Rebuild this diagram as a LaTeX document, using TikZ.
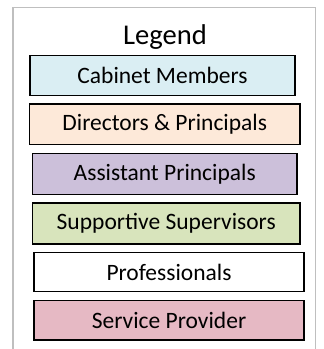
\documentclass[tikz,border=0pt]{standalone}
\usepackage{fontspec}
\setmainfont{Carlito}
\usetikzlibrary{calc}
\definecolor{cabinet}{HTML}{DAEEF3}
\definecolor{director}{HTML}{FDE9D9}
\definecolor{assistant}{HTML}{CCC0DA}
\definecolor{supervisor}{HTML}{D8E4BC}
\definecolor{provider}{HTML}{E6B9C4}
\definecolor{framegray}{HTML}{BFBFBF}
\tikzset{
  legbox/.style={draw=black,line width=1.8pt,inner sep=0pt,
    font=\fontsize{23.5}{26}\selectfont}
}

\begin{document}
\begin{tikzpicture}[x=1pt,y=-1pt]
    \useasboundingbox (0,0) rectangle (324,349);
    % outer frame, open at the bottom
    \draw[framegray,line width=1.5pt] (13,349) -- (13,7.5) -- (315.5,7.5) -- (315.5,349);
    \node[font=\fontsize{28.6}{32}\selectfont] (title) at (165,37) {Legend};
    % legend entries
    \node[legbox,fill=cabinet,minimum width=265pt,minimum height=40pt] (cab) at (162.5,75.5) {Cabinet Members};
    \node[legbox,fill=director,minimum width=270.5pt,minimum height=40.5pt] (dir) at (164.75,124.25) {Directors \& Principals};
    \node[legbox,fill=assistant,minimum width=264.5pt,minimum height=41pt] (asp) at (164.75,174) {Assistant Principals};
    \node[legbox,fill=supervisor,minimum width=267.5pt,minimum height=41pt] (sup) at (166.25,223.5) {Supportive Supervisors};
    \node[legbox,fill=white,minimum width=270pt,minimum height=39pt] (pro) at (169,272) {Professionals};
    \node[legbox,fill=provider,minimum width=270pt,minimum height=39.5pt] (ser) at (169,320.25) {Service Provider};
\end{tikzpicture}
\end{document}
